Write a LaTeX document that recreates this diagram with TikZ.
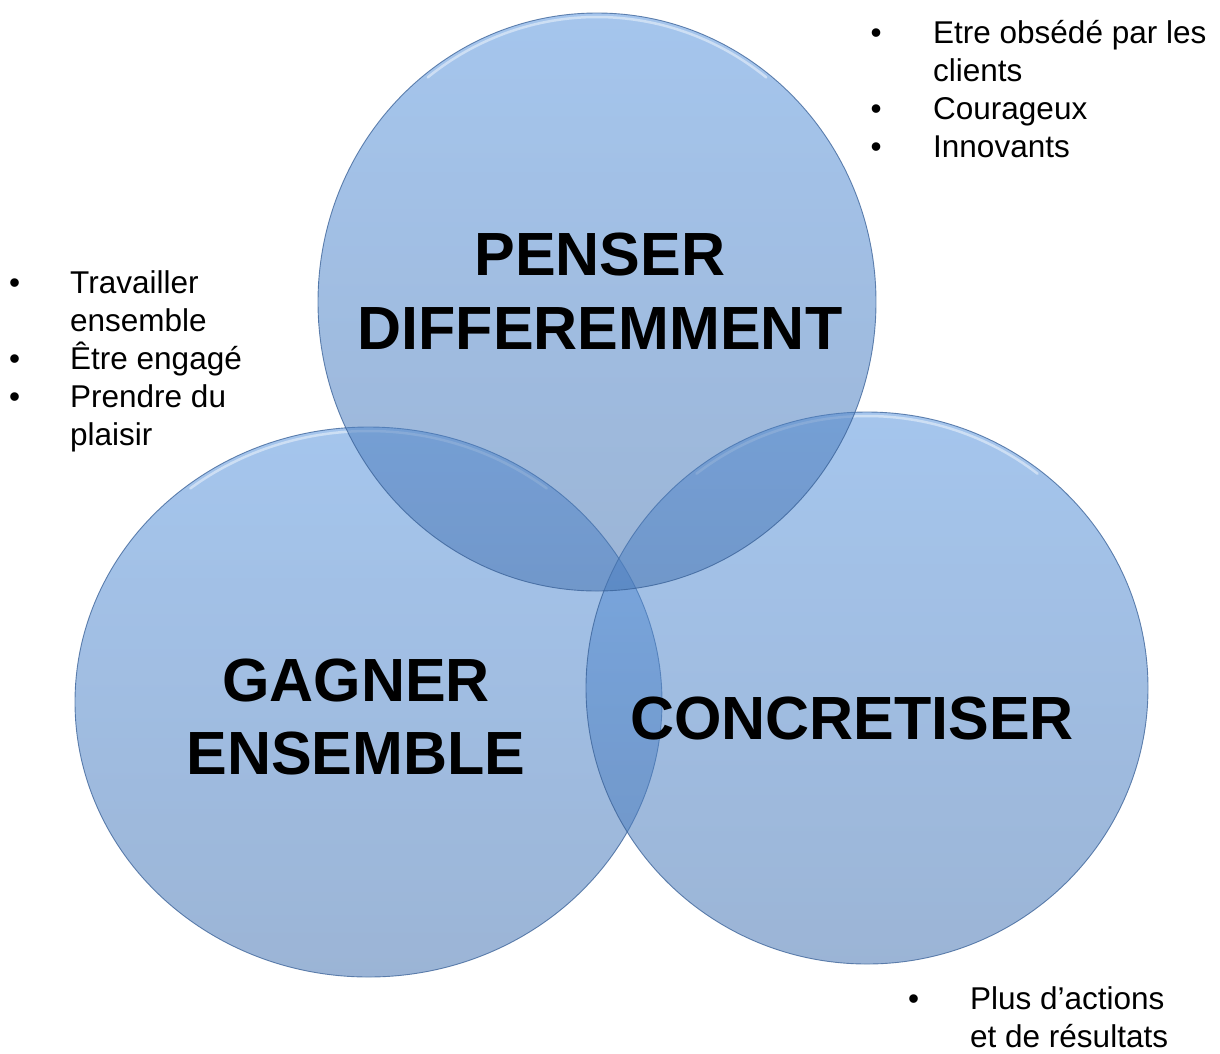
\documentclass[tikz,border=0pt]{standalone}
\usepackage{fontspec}
\setmainfont{Liberation Sans}
\usetikzlibrary{shapes.geometric,positioning}

\definecolor{vennTop}{RGB}{91,150,222}
\definecolor{vennBot}{RGB}{73,119,180}
\definecolor{vennLine}{RGB}{55,95,150}

\tikzset{
  venn/.style={ellipse, inner sep=0pt, top color=vennTop, bottom color=vennBot,
    fill opacity=0.55, draw=vennLine, draw opacity=0.75, line width=0.9pt},
  rim/.style={white, opacity=0.45, line width=2.5pt, line cap=round},
  headtext/.style={font=\fontsize{61}{73.5}\selectfont\bfseries, align=center,
    text=black, inner sep=0pt},
  bullets/.style={font=\fontsize{31.5}{38}\selectfont, inner sep=0pt, anchor=base west},
}

\begin{document}
\begin{tikzpicture}[x=1pt,y=-1pt]

\useasboundingbox (0,0) rectangle (1220,1053);

% Draw the three circles
\foreach \name/\cx/\cy/\rx/\ry in {ge/368.5/702/293.5/275, cc/867/688/281/276, pd/597/302/279/289} {
    \node[venn, minimum width=2*\rx pt, minimum height=2*\ry pt] (\name) at (\cx,\cy) {};
    % glossy rim at the top
    \draw[rim] (\cx,\cy) ++(232:{\rx-4} and {\ry-4})
      arc[start angle=232, end angle=308, x radius=\rx-4, y radius=\ry-4];
}

% Titles
\node[headtext] (pdText) at (600,291) {PENSER\\DIFFEREMMENT};
\node[headtext] (geText) at (356,717) {GAGNER\\ENSEMBLE};
\node[headtext] (ccText) at (852,718) {CONCRETISER};

% Bullet lists
\node[bullets] (pdList) at (870.5,43) {\begin{tabular}[t]{@{}p{62.5pt}@{}l@{}}
  • & Etre obsédé par les\\
    & clients\\
  • & Courageux\\
  • & Innovants
\end{tabular}};

\node[bullets] (geList) at (9,293) {\begin{tabular}[t]{@{}p{61pt}@{}l@{}}
  • & Travailler\\
    & ensemble\\
  • & Être engagé\\
  • & Prendre du\\
    & plaisir
\end{tabular}};

\node[bullets] (ccList) at (908,1009) {\begin{tabular}[t]{@{}p{62pt}@{}l@{}}
  • & Plus d’actions\\
    & et de résultats
\end{tabular}};

\end{tikzpicture}
\end{document}
